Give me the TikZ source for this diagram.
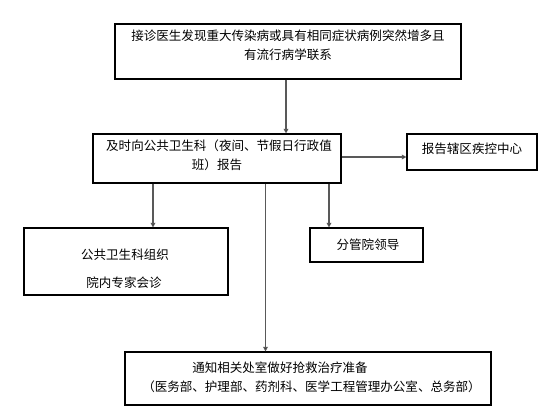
\documentclass[tikz,border=0pt]{standalone}
\usepackage{fontspec}
\setmainfont{Noto Sans CJK SC}
\usetikzlibrary{arrows.meta}
\begin{document}
\begin{tikzpicture}[x=0.75pt,y=-0.75pt,
  box/.style={draw=black,line width=0.8pt,inner sep=0pt,fill=white},
  txt/.style={inner sep=0pt,font=\fontsize{9.4pt}{11pt}\selectfont},
  arr/.style={draw=black!65,line width=1pt,-{Triangle[length=3.5pt,width=3.5pt,fill=black]}}]
\useasboundingbox (0,0) rectangle (560,420);
% boxes
\node[box,minimum width=346*0.75pt,minimum height=55*0.75pt] (b1) at (288,51.5) {};
\node[box,minimum width=248*0.75pt,minimum height=49*0.75pt] (b2) at (217,158.5) {};
\node[box,minimum width=130*0.75pt,minimum height=36*0.75pt] (b3) at (472,152) {};
\node[box,minimum width=204*0.75pt,minimum height=67*0.75pt] (b4) at (126,261.5) {};
\node[box,minimum width=113*0.75pt,minimum height=34*0.75pt] (b5) at (366.5,245) {};
\node[box,minimum width=366*0.75pt,minimum height=53*0.75pt] (b6) at (308,378.5) {};
% texts
\node[txt] (t1a) at (288,36) {接诊医生发现重大传染病或具有相同症状病例突然增多且};
\node[txt] (t1b) at (288,55) {有流行病学联系};
\node[txt] (t2a) at (219,146) {及时向公共卫生科（夜间、节假日行政值};
\node[txt] (t2b) at (217,165) {班）报告};
\node[txt] (t3) at (472,149) {报告辖区疾控中心};
\node[txt] (t4a) at (125,255) {公共卫生科组织};
\node[txt] (t4b) at (124,283) {院内专家会诊};
\node[txt] (t5) at (368,245) {分管院领导};
\node[txt,anchor=west] (t6a) at (192,368) {通知相关处室做好抢救治疗准备};
\node[txt,anchor=west] (t6b) at (142,387) {（医务部、护理部、药剂科、医学工程管理办公室、总务部）};
% connectors
\draw[arr] (b1.south -| 286,0) -- (b2.north -| 286,0);
\draw[arr] (b2.east |- 0,157) -- (b3.west |- 0,157);
\draw[arr] (b2.south -| 153,0) -- (b4.north -| 153,0);
\draw[arr] (b2.south -| 329,0) -- (b5.north -| 329,0);
\draw[arr] (b2.south -| 265.5,0) -- (b6.north -| 265.5,0);
\end{tikzpicture}
\end{document}
